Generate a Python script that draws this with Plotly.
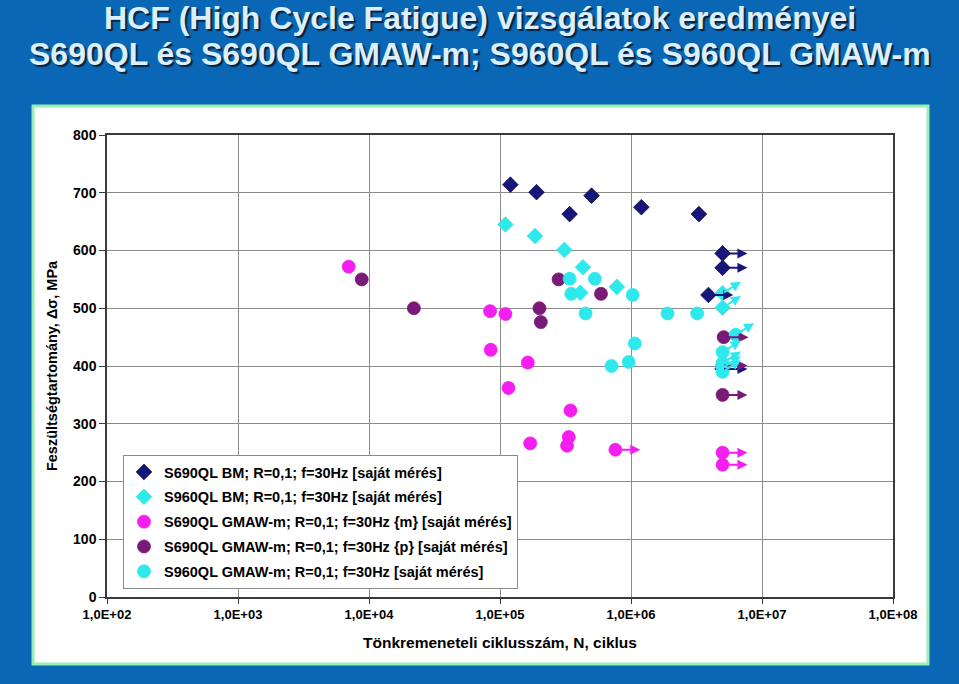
import math
import plotly.graph_objects as go

# ---------------- data ----------------
x_tick_vals = [1e2, 1e3, 1e4, 1e5, 1e6, 1e7, 1e8]
x_tick_text = ["1,0E+02", "1,0E+03", "1,0E+04", "1,0E+05", "1,0E+06", "1,0E+07", "1,0E+08"]
y_tick_vals = [0, 100, 200, 300, 400, 500, 600, 700, 800]

s690_bm_name = "S690QL BM; R=0,1; f=30Hz [saját mérés]"
s690_bm_N = [1.2e5, 1.9e5, 3.4e5, 5.0e5, 1.2e6, 3.3e6, 5.0e6, 5.0e6, 3.9e6, 5.0e6]
s690_bm_S = [714, 701, 663, 695, 675, 663, 595, 570, 523, 395]
s690_bm_runout = [0, 0, 0, 0, 0, 0, 1, 1, 1, 1]

s960_bm_name = "S960QL BM; R=0,1; f=30Hz [saját mérés]"
s960_bm_N = [1.1e5, 1.85e5, 3.1e5, 4.3e5, 4.1e5, 7.8e5, 5.0e6, 5.0e6]
s960_bm_S = [645, 625, 601, 571, 527, 537, 526, 501]
s960_bm_runout = [0, 0, 0, 0, 0, 0, 1, 1]

s690_m_name = "S690QL GMAW-m; R=0,1; f=30Hz {m} [saját mérés]"
s690_m_N = [7.0e3, 8.4e4, 1.1e5, 8.5e4, 1.63e5, 1.16e5, 3.45e5, 1.7e5, 3.35e5, 3.25e5, 7.6e5, 5.0e6, 5.0e6]
s690_m_S = [572, 495, 490, 428, 406, 362, 323, 266, 277, 262, 255, 250, 229]
s690_m_runout = [0, 0, 0, 0, 0, 0, 0, 0, 0, 0, 1, 1, 1]

s690_p_name = "S690QL GMAW-m; R=0,1; f=30Hz {p} [saját mérés]"
s690_p_N = [8.8e3, 2.2e4, 2.8e5, 5.9e5, 2.0e5, 2.05e5, 5.1e6, 5.0e6, 5.0e6]
s690_p_S = [550, 500, 550, 525, 500, 476, 450, 401, 350]
s690_p_runout = [0, 0, 0, 0, 0, 0, 1, 1, 1]

s960_gm_name = "S960QL GMAW-m; R=0,1; f=30Hz [saját mérés]"
s960_gm_N = [3.4e5, 5.3e5, 3.5e5, 1.03e6, 4.5e5, 1.9e6, 3.2e6, 1.07e6, 7.1e5, 9.6e5, 6.3e6, 5.0e6, 5.0e6, 5.0e6, 5.0e6]
s960_gm_S = [551, 551, 525, 523, 491, 491, 491, 439, 400, 407, 454, 424, 405, 397, 390]
s960_gm_runout = [0, 0, 0, 0, 0, 0, 0, 0, 0, 0, 1, 1, 1, 1, 1]

# ---------------- styles ----------------
NAVY = "#16167c"
CYAN = "#2ee9ec"
MAGENTA = "#f41ef0"
PURPLE = "#7a1a78"
FONT = "Liberation Sans, Arial, sans-serif"

series = [
    (s690_bm_name, s690_bm_N, s690_bm_S, s690_bm_runout, NAVY, "diamond", 12, "h", "#0a0a40"),
    (s960_bm_name, s960_bm_N, s960_bm_S, s960_bm_runout, CYAN, "diamond", 12, "d", CYAN),
    (s690_m_name, s690_m_N, s690_m_S, s690_m_runout, MAGENTA, "circle", 13, "h", MAGENTA),
    (s690_p_name, s690_p_N, s690_p_S, s690_p_runout, PURPLE, "circle", 13, "h", PURPLE),
    (s960_gm_name, s960_gm_N, s960_gm_S, s960_gm_runout, CYAN, "circle", 13, "d", CYAN),
]

fig = go.Figure()
annotations = []
for i, (name, N, S, ro, col, sym, sz, adir, lcol) in enumerate(series):
    fig.add_trace(go.Scatter(
        x=N, y=S, mode="markers", name=name, legendgroup=f"g{i}",
        marker=dict(symbol=sym, size=sz, color=col, line=dict(width=0.8, color=lcol)),
    ))
    for n, s, r in zip(N, S, ro):
        if not r:
            continue
        lx0 = math.log10(n)
        if adir == "h":
            lx1, s1 = lx0 + 0.19, s
        else:
            lx1, s1 = lx0 + 0.14, s + 20
        annotations.append(dict(
            x=lx1, y=s1, ax=lx0, ay=s, xref="x", yref="y", axref="x", ayref="y",
            text="", showarrow=True, arrowhead=2, arrowsize=1, arrowwidth=2,
            arrowcolor=col, standoff=0, startstandoff=0,
        ))

# title
title_font = dict(family="Liberation Sans, Arial", size=32, color="#dcefff", weight="bold",
                  shadow="2px 2px 1px #0b2340")
annotations.append(dict(text="HCF (High Cycle Fatigue) vizsgálatok eredményei",
                        xref="paper", yref="paper", x=(480 - 107) / 786, y=(597 - 18) / 462,
                        xanchor="center", yanchor="middle", showarrow=False, font=title_font))
annotations.append(dict(text="S690QL és S690QL GMAW-m; S960QL és S960QL GMAW-m",
                        xref="paper", yref="paper", x=(480 - 107) / 786, y=(597 - 54) / 462,
                        xanchor="center", yanchor="middle", showarrow=False, font=title_font))

shapes = [dict(type="rect", xref="paper", yref="paper",
               x0=(33 - 107) / 786, x1=(928 - 107) / 786,
               y0=(597 - 664) / 462, y1=(597 - 106) / 462,
               fillcolor="white", line=dict(color="#93f0b0", width=3), layer="below")]

axis_font = dict(family=FONT, size=13, color="black", weight="bold")

fig.update_layout(
    width=959, height=684,
    margin=dict(l=107, r=66, t=135, b=87),
    paper_bgcolor="#0a67b6",
    plot_bgcolor="white",
    showlegend=True,
    legend=dict(x=(123 - 107) / 786, y=(597 - 455) / 462, xanchor="left", yanchor="top",
                bgcolor="white", bordercolor="#8a8a8a", borderwidth=1,
                font=dict(family=FONT, size=14.5, color="black", weight="bold"),
                traceorder="grouped", tracegroupgap=3, itemwidth=30),
    annotations=annotations,
    shapes=shapes,
    xaxis=dict(type="log", range=[2, 8], tickvals=x_tick_vals, ticktext=x_tick_text,
               showgrid=True, gridcolor="#8c8c8c", gridwidth=1,
               showline=True, linecolor="#3a3a3a", linewidth=1.5, mirror=True,
               ticks="outside", ticklen=5, tickcolor="#3a3a3a",
               tickfont=axis_font, zeroline=False,
               title=dict(text="Tönkremeneteli ciklusszám, N, ciklus",
                          font=dict(family=FONT, size=15.5, color="black", weight="bold"),
                          standoff=16)),
    yaxis=dict(range=[0, 800], tickvals=y_tick_vals,
               showgrid=True, gridcolor="#8c8c8c", gridwidth=1,
               showline=True, linecolor="#3a3a3a", linewidth=1.5, mirror=True,
               ticks="outside", ticklen=6, tickcolor="#3a3a3a",
               tickfont=dict(family=FONT, size=14, color="black", weight="bold"),
               zeroline=False,
               title=dict(text="Feszültségtartomány, Δσ, MPa",
                          font=dict(family=FONT, size=14.5, color="black", weight="bold"),
                          standoff=12)),
)

fig.write_html("out.html", config={"displayModeBar": False},
               post_script="document.body.style.margin='0';document.body.style.overflow='hidden';")
